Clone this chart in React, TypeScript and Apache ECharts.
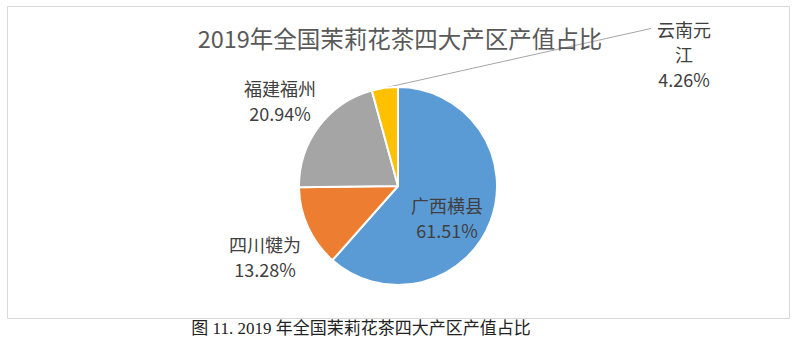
import React, { useEffect, useRef } from "react";
import * as echarts from "echarts";

const TITLE = "2019年全国茉莉花茶四大产区产值占比";
const CAPTION = "图 11. 2019 年全国茉莉花茶四大产区产值占比";
const categories = ["广西横县", "四川犍为", "福建福州", "云南元江"];
const labelNames = ["广西横县", "四川犍为", "福建福州", "云南元\n江"];
const values = [61.51, 13.28, 20.94, 4.26];
const colors = ["#5B9BD5", "#ED7D31", "#A5A5A5", "#FFC000"];
// label block centres (layout)
const labelPos: number[][] = [
  [447, 217],
  [265, 256],
  [280, 100],
  [684, 54],
];

export default function App() {
  const ref = useRef<HTMLDivElement>(null);
  useEffect(() => {
    document.body.style.margin = "0";
    const chart = echarts.init(ref.current!, null, { renderer: "svg" });
    const font = "'Noto Sans CJK SC', 'Noto Sans', sans-serif";
    chart.setOption({
      animation: false,
      backgroundColor: "#ffffff",
      title: {
        text: TITLE,
        left: "center",
        top: 21,
        textStyle: { fontSize: 23.5, fontWeight: "normal", color: "#595959", fontFamily: font },
      },
      graphic: [
        {
          type: "rect",
          z: -10,
          shape: { x: 7.5, y: 6.5, width: 782, height: 312 },
          style: { fill: "#ffffff", stroke: "#d9d9d9", lineWidth: 1 },
          silent: true,
        },
        {
          type: "text",
          x: 361,
          y: 328,
          style: {
            text: CAPTION,
            fontSize: 17,
            fontFamily: "'Liberation Serif', 'DejaVu Serif', 'Noto Sans CJK SC', serif",
            fill: "#222222",
            textAlign: "center",
            textVerticalAlign: "middle",
          },
        },
      ],
      series: [
        {
          type: "pie",
          center: [398, 186],
          radius: 99,
          startAngle: 90,
          clockwise: true,
          avoidLabelOverlap: false,
          itemStyle: { borderColor: "#ffffff", borderWidth: 2 },
          label: {
            show: true,
            position: "outside",
            fontSize: 18,
            lineHeight: 25,
            color: "#404040",
            fontFamily: font,
            align: "center",
            formatter: (p: any) => labelNames[p.dataIndex] + "\n" + values[p.dataIndex].toFixed(2) + "%",
          },
          labelLine: { show: false },
          labelLayout: (p: any) => {
            const pos = labelPos[p.dataIndex];
            const res: any = { x: pos[0], y: pos[1], align: "center", verticalAlign: "middle" };
            if (p.dataIndex === 3 && p.labelLinePoints && p.labelRect) {
              const w = p.labelRect.width;
              const h = p.labelRect.height;
              const endX = pos[0] - w / 2 - 6;
              const endY = pos[1] - h / 2 + 12;
              res.labelLinePoints = [p.labelLinePoints[0], [endX, endY], [endX, endY]];
            }
            return res;
          },
          data: categories.map((name, i) => ({
            name,
            value: values[i],
            itemStyle: { color: colors[i] },
            labelLine:
              i === 3
                ? { show: true, length: 10, length2: 10, lineStyle: { color: "#A6A6A6", width: 1 } }
                : { show: false },
          })),
        },
      ],
    });
    return () => chart.dispose();
  }, []);
  return <div ref={ref} style={{ width: 800, height: 345 }} />;
}
